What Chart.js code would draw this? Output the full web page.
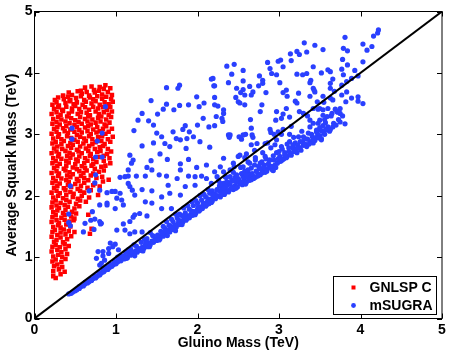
<!DOCTYPE html>
<html lang="en">
<head>
<meta charset="UTF-8">
<title>Squark vs gluino mass</title>
<script src="https://cdn.jsdelivr.net/npm/chart.js"></script>
<style>
  html, body { margin: 0; padding: 0; background: #fff; }
  #wrap { width: 450px; height: 354px; }
</style>
</head>
<body>
<div id="wrap"><canvas id="chartMass" width="450" height="354"></canvas></div>
<script>
// axis ticks (TeV)
const axisTicks = [0, 1, 2, 3, 4, 5];
const seriesNames = ['GNLSP C', 'mSUGRA'];

// GNLSP C points [gluino, squark] in TeV
const gnlspC = [
  [0.57,3.71],[0.62,3.76],[0.70,3.78],[0.73,3.72],[0.80,3.77],[0.85,3.74],[0.87,3.80],[0.93,3.75],
  [0.35,3.63],[0.42,3.68],[0.46,3.64],[0.53,3.70],[0.58,3.66],[0.64,3.69],[0.67,3.63],[0.74,3.68],[0.79,3.71],[0.83,3.65],[0.90,3.69],[0.95,3.64],
  [0.25,3.56],[0.29,3.60],[0.36,3.57],[0.41,3.61],[0.44,3.56],[0.51,3.59],[0.57,3.62],[0.61,3.56],[0.68,3.60],[0.72,3.57],[0.77,3.62],[0.83,3.58],[0.88,3.61],[0.94,3.57],
  [0.22,3.48],[0.27,3.52],[0.30,3.47],[0.38,3.51],[0.43,3.54],[0.48,3.49],[0.52,3.52],[0.59,3.48],[0.63,3.53],[0.70,3.50],[0.75,3.54],[0.80,3.48],[0.86,3.52],[0.91,3.49],[0.96,3.53],
  [0.24,3.41],[0.29,3.44],[0.34,3.40],[0.39,3.45],[0.46,3.42],[0.50,3.46],[0.55,3.41],[0.62,3.44],[0.67,3.40],[0.72,3.45],[0.78,3.42],[0.84,3.44],[0.89,3.40],[0.93,3.45],
  [0.21,3.33],[0.27,3.36],[0.32,3.32],[0.35,3.38],[0.42,3.34],[0.46,3.37],[0.53,3.33],[0.57,3.36],[0.64,3.35],[0.68,3.31],[0.75,3.37],[0.79,3.33],[0.85,3.36],[0.91,3.32],[0.95,3.37],
  [0.23,3.25],[0.29,3.28],[0.33,3.24],[0.40,3.29],[0.45,3.26],[0.50,3.23],[0.56,3.28],[0.62,3.25],[0.66,3.29],[0.71,3.24],[0.78,3.27],[0.82,3.29],[0.88,3.24],[0.94,3.28],
  [0.22,3.17],[0.27,3.20],[0.31,3.16],[0.38,3.21],[0.43,3.18],[0.49,3.15],[0.54,3.20],[0.58,3.17],[0.65,3.21],[0.69,3.16],[0.75,3.19],[0.81,3.21],[0.86,3.16],[0.92,3.19],
  [0.24,3.09],[0.28,3.12],[0.35,3.10],[0.39,3.13],[0.44,3.08],[0.52,3.12],[0.55,3.07],[0.62,3.11],[0.66,3.13],[0.72,3.08],[0.77,3.12],[0.84,3.09],[0.88,3.13],[0.95,3.09],
  [0.21,3.01],[0.27,3.04],[0.30,3.00],[0.37,3.05],[0.41,3.02],[0.49,3.04],[0.52,2.99],[0.58,3.03],[0.65,3.05],[0.69,3.00],[0.76,3.03],[0.80,3.05],[0.87,3.01],[0.91,3.04],
  [0.23,2.93],[0.29,2.96],[0.33,2.92],[0.40,2.97],[0.45,2.94],[0.49,2.91],[0.56,2.96],[0.61,2.93],[0.67,2.97],[0.71,2.92],[0.78,2.95],[0.83,2.97],[0.90,2.92],[0.96,2.96],
  [0.22,2.85],[0.26,2.88],[0.33,2.84],[0.36,2.89],[0.44,2.86],[0.47,2.83],[0.53,2.88],[0.60,2.85],[0.63,2.89],[0.71,2.84],[0.75,2.87],[0.82,2.89],[0.86,2.84],[0.93,2.88],
  [0.24,2.77],[0.28,2.80],[0.34,2.76],[0.41,2.81],[0.45,2.78],[0.52,2.75],[0.56,2.80],[0.63,2.77],[0.67,2.81],[0.74,2.76],[0.80,2.79],[0.84,2.81],[0.90,2.76],
  [0.21,2.69],[0.27,2.72],[0.30,2.68],[0.38,2.73],[0.43,2.70],[0.47,2.67],[0.54,2.72],[0.58,2.69],[0.66,2.73],[0.69,2.68],[0.77,2.71],[0.81,2.73],[0.89,2.68],[0.94,2.72],
  [0.23,2.61],[0.29,2.64],[0.33,2.60],[0.40,2.65],[0.44,2.62],[0.51,2.59],[0.55,2.64],[0.62,2.61],[0.68,2.65],[0.72,2.60],[0.79,2.63],[0.85,2.65],[0.92,2.61],
  [0.22,2.53],[0.26,2.56],[0.31,2.52],[0.39,2.57],[0.42,2.54],[0.50,2.51],[0.53,2.56],[0.61,2.53],[0.65,2.57],[0.72,2.52],[0.76,2.55],[0.85,2.57],[0.93,2.53],
  [0.24,2.45],[0.28,2.48],[0.36,2.44],[0.39,2.49],[0.47,2.46],[0.52,2.43],[0.58,2.48],[0.62,2.45],[0.70,2.49],[0.74,2.44],[0.82,2.47],[0.87,2.49],
  [0.21,2.37],[0.27,2.40],[0.30,2.36],[0.38,2.41],[0.43,2.38],[0.47,2.35],[0.55,2.40],[0.60,2.37],[0.64,2.41],[0.72,2.36],[0.79,2.39],[0.85,2.41],
  [0.23,2.29],[0.29,2.32],[0.33,2.28],[0.40,2.33],[0.44,2.30],[0.52,2.27],[0.57,2.32],[0.61,2.29],[0.69,2.33],[0.76,2.29],[0.83,2.31],[0.91,2.26],
  [0.22,2.21],[0.26,2.24],[0.31,2.20],[0.39,2.25],[0.42,2.22],[0.50,2.19],[0.54,2.24],[0.61,2.21],[0.66,2.25],[0.74,2.20],[0.84,2.23],
  [0.24,2.13],[0.28,2.16],[0.36,2.12],[0.41,2.17],[0.45,2.14],[0.53,2.11],[0.57,2.16],[0.65,2.13],[0.72,2.17],[0.80,2.15],
  [0.21,2.05],[0.27,2.08],[0.31,2.04],[0.38,2.09],[0.44,2.06],[0.48,2.03],[0.56,2.08],[0.61,2.05],[0.69,2.09],
  [0.23,1.97],[0.29,2.00],[0.35,1.96],[0.39,2.01],[0.47,1.98],[0.53,1.95],[0.58,2.00],[0.67,1.97],[0.78,2.01],
  [0.22,1.89],[0.26,1.92],[0.32,1.88],[0.39,1.93],[0.43,1.90],[0.51,1.87],[0.56,1.92],[0.63,1.90],
  [0.21,1.81],[0.27,1.84],[0.30,1.80],[0.37,1.85],[0.41,1.82],[0.49,1.79],[0.55,1.83],
  [0.23,1.73],[0.28,1.76],[0.35,1.72],[0.38,1.77],[0.46,1.74],[0.51,1.71],
  [0.22,1.65],[0.26,1.68],[0.33,1.64],[0.37,1.69],[0.45,1.66],[0.49,1.63],[0.66,1.69],
  [0.21,1.57],[0.27,1.60],[0.30,1.56],[0.37,1.61],[0.43,1.58],[0.48,1.60],
  [0.23,1.49],[0.29,1.52],[0.32,1.48],[0.39,1.53],[0.44,1.50],[0.70,1.46],
  [0.22,1.41],[0.25,1.44],[0.32,1.40],[0.36,1.45],[0.42,1.42],[0.49,1.41],[0.68,1.38],
  [0.21,1.33],[0.28,1.36],[0.32,1.32],[0.38,1.37],[0.45,1.34],
  [0.24,1.25],[0.27,1.28],[0.35,1.24],[0.40,1.29],
  [0.22,1.17],[0.26,1.20],[0.31,1.16],[0.37,1.21],[0.42,1.18],
  [0.21,1.09],[0.28,1.12],[0.33,1.08],[0.38,1.13],
  [0.23,1.01],[0.29,1.04],[0.34,1.00],[0.40,1.05],
  [0.22,0.93],[0.26,0.96],[0.33,0.92],[0.38,0.97],
  [0.24,0.85],[0.28,0.88],[0.34,0.84],
  [0.23,0.77],[0.30,0.80],[0.37,0.76],
  [0.32,0.72],[0.23,0.69],[0.26,0.66]
];

// mSUGRA points lying on the dense band just under the diagonal
const msugraBand = [
  [0.42,0.40],[0.45,0.41],[0.47,0.43],[0.50,0.45],[0.52,0.47],[0.55,0.49],[0.57,0.52],[0.60,0.53],[0.62,0.56],[0.65,0.58],
  [0.67,0.60],[0.70,0.62],[0.72,0.65],[0.75,0.66],[0.77,0.69],[0.80,0.71],[0.82,0.74],[0.85,0.76],[0.87,0.79],[0.90,0.80],
  [0.92,0.83],[0.95,0.85],[0.97,0.88],[1.00,0.89],
  [0.55,0.52],[0.62,0.59],[0.68,0.64],[0.74,0.70],[0.79,0.75],[0.84,0.80],[0.88,0.84],[0.93,0.88],[0.98,0.93],
  [1.02,0.92],[1.04,0.96],[1.06,0.94],[1.08,0.99],[1.10,0.97],[1.12,1.01],[1.14,0.99],[1.16,1.05],[1.18,1.03],[1.20,1.07],
  [1.22,1.05],[1.24,1.10],[1.26,1.08],[1.28,1.14],[1.30,1.11],[1.32,1.16],[1.34,1.14],[1.36,1.20],[1.38,1.17],[1.40,1.23],
  [1.42,1.20],[1.44,1.26],[1.46,1.24],[1.48,1.30],[1.50,1.27],
  [1.05,1.02],[1.12,1.08],[1.18,1.13],[1.25,1.18],[1.31,1.24],[1.38,1.30],[1.45,1.35],[1.02,1.00],[1.15,1.12],[1.22,1.20],[1.35,1.29],[1.42,1.40],
  [1.03,0.95],[1.09,1.02],[1.13,0.98],[1.19,1.09],[1.23,1.02],[1.27,1.12],[1.33,1.10],[1.37,1.24],[1.41,1.17],[1.47,1.27],
  [1.52,1.32],[1.54,1.30],[1.56,1.36],[1.58,1.34],[1.60,1.40],[1.62,1.37],[1.64,1.44],[1.66,1.41],[1.68,1.47],[1.70,1.45],
  [1.72,1.52],[1.74,1.49],[1.76,1.55],[1.78,1.53],[1.80,1.59],[1.82,1.57],[1.84,1.63],[1.86,1.60],[1.88,1.67],[1.90,1.64],
  [1.92,1.70],[1.94,1.68],[1.96,1.74],[1.98,1.72],[2.00,1.78],[2.02,1.75],[2.04,1.82],[2.06,1.79],[2.08,1.86],[2.10,1.83],
  [2.12,1.90],[2.14,1.87],[2.16,1.94],[2.18,1.91],[2.20,1.97],
  [1.55,1.42],[1.60,1.47],[1.65,1.52],[1.70,1.58],[1.75,1.64],[1.80,1.68],[1.85,1.72],[1.90,1.78],[1.95,1.84],[2.00,1.88],
  [2.05,1.93],[2.10,1.98],[2.15,2.04],[1.58,1.50],[1.68,1.62],[1.78,1.70],[1.88,1.84],[1.98,1.92],[2.08,2.02],[2.18,2.08],
  [1.62,1.58],[1.73,1.70],[1.83,1.80],[1.93,1.90],[2.03,2.00],[2.13,2.10],
  [1.51,1.36],[1.53,1.28],[1.57,1.39],[1.61,1.43],[1.63,1.35],[1.67,1.50],[1.71,1.48],[1.73,1.43],[1.77,1.60],[1.81,1.53],
  [1.83,1.66],[1.87,1.63],[1.91,1.67],[1.93,1.75],[1.97,1.69],[2.01,1.82],[2.03,1.77],[2.07,1.88],[2.11,1.85],[2.13,1.95],
  [2.17,1.89],[2.19,2.00],
  [2.22,1.95],[2.25,2.00],[2.28,1.98],[2.30,2.05],[2.33,2.02],[2.36,2.08],[2.38,2.06],[2.41,2.12],[2.44,2.10],[2.46,2.16],
  [2.49,2.14],[2.52,2.20],[2.55,2.18],[2.57,2.24],[2.60,2.22],[2.63,2.28],[2.66,2.26],[2.68,2.32],[2.71,2.30],[2.74,2.36],
  [2.77,2.34],[2.80,2.40],[2.83,2.38],[2.86,2.44],[2.89,2.47],[2.92,2.42],[2.95,2.50],[2.98,2.53],
  [2.24,2.10],[2.27,2.16],[2.32,2.20],[2.37,2.18],[2.42,2.25],[2.46,2.30],[2.50,2.28],[2.55,2.35],[2.58,2.40],[2.62,2.38],
  [2.66,2.45],[2.70,2.50],[2.75,2.48],[2.79,2.55],[2.84,2.60],[2.88,2.58],[2.93,2.65],[2.97,2.70],[2.26,2.24],[2.35,2.30],
  [2.44,2.38],[2.53,2.46],[2.62,2.55],[2.71,2.62],[2.80,2.70],[2.90,2.78],[2.30,2.14],[2.48,2.22],[2.64,2.34],[2.82,2.50],
  [2.21,2.03],[2.23,1.98],[2.27,2.08],[2.29,2.01],[2.31,2.10],[2.34,2.06],[2.35,2.15],[2.39,2.09],[2.40,2.20],[2.43,2.14],
  [2.45,2.24],[2.47,2.12],[2.51,2.25],[2.54,2.22],[2.56,2.31],[2.59,2.19],[2.61,2.30],[2.64,2.25],[2.67,2.36],[2.69,2.28],
  [2.72,2.40],[2.74,2.32],[2.76,2.44],[2.79,2.37],[2.81,2.46],[2.85,2.40],[2.87,2.52],[2.91,2.48],[2.94,2.58],[2.96,2.46],
  [2.99,2.60],
  [3.02,2.56],[3.06,2.60],[3.10,2.64],[3.14,2.68],[3.18,2.72],[3.22,2.70],[3.26,2.78],[3.30,2.82],[3.34,2.80],[3.38,2.88],
  [3.42,2.86],[3.46,2.95],[3.50,2.98],[3.55,3.02],[3.58,3.08],[3.62,3.05],[3.66,3.12],[3.70,3.15],[3.75,3.20],
  [3.04,2.76],[3.10,2.84],[3.18,2.95],[3.28,3.05],[3.38,3.12],[3.48,3.18],[3.56,3.24],[3.64,3.30],[3.72,3.36],
  [3.12,2.78],[3.20,2.86],[3.30,2.96],[3.40,3.00],
  [3.01,2.64],[3.04,2.58],[3.07,2.70],[3.09,2.62],[3.12,2.72],[3.15,2.66],[3.17,2.78],[3.20,2.74],[3.23,2.82],[3.27,2.74],
  [3.29,2.88],[3.32,2.84],[3.35,2.92],[3.37,2.84],[3.41,2.96],[3.44,2.90],[3.47,3.02],[3.49,2.94],[3.52,3.06],[3.56,3.00],
  [3.60,3.12],[3.63,3.08],[3.67,3.18],[3.73,3.24],[3.78,3.30],
  [2.45,2.47],[2.58,2.62],[2.70,2.74],[2.86,2.86],[3.05,3.08],[3.15,3.13],[3.35,3.30],[3.55,3.52],[3.68,3.70]
];

// mSUGRA points scattered around and above the diagonal
const msugraUpper = [
  [2.38,2.99],[2.39,2.95],[2.54,2.92],[2.59,3.00],[2.67,2.99],[2.66,2.83],[2.73,2.85],[2.83,2.85],[2.90,3.03],[2.99,3.04],
  [3.03,3.00],[2.97,2.91],[2.95,2.83],[3.03,2.80],[3.13,3.00],[3.13,2.88],[3.17,2.83],[3.24,2.96],[3.26,2.88],[3.32,2.93],
  [3.36,3.02],[3.42,2.91],[3.52,2.91],[3.46,3.04],[3.07,2.66],[3.00,2.72],[3.22,2.77],[2.93,2.41],[2.89,2.58],[2.83,2.64],
  [2.77,2.53],[2.71,2.58],[2.64,2.53],[2.62,2.42],[2.56,2.47],[2.50,2.64],[2.52,2.66],[2.60,2.68],[2.44,2.53],[2.40,2.42],
  [2.32,2.61],[2.28,2.47],[2.32,2.39],[2.34,2.31],[2.40,2.31],[2.48,2.34],[2.54,2.36],[2.60,2.34],[2.24,2.31],[2.21,2.39],
  [2.17,2.20],[2.28,2.20],[2.36,2.23],[2.24,2.09],[2.32,2.12],[2.19,2.01],[2.15,1.93],
  [3.38,3.23],[3.42,3.18],[3.50,3.23],[3.57,3.19],[3.54,3.14],[3.50,3.11],[3.57,3.07],[3.46,3.07],[3.81,3.17],[3.52,2.93],
  [3.59,3.29],[3.54,3.31],[3.65,3.34],[3.75,3.34],[3.71,3.37],[3.50,3.42],[3.54,3.40],[3.60,3.42],[3.69,3.41],[3.75,3.42],
  [3.47,3.53],[4.03,3.50],[3.82,3.53],[3.97,3.54],[3.97,3.61],[3.89,3.59],[3.66,3.56],[3.63,3.59],[3.54,3.62],[3.77,3.64],
  [3.83,3.69],[3.44,3.69],[3.42,3.75],[3.63,3.75],[3.63,3.83],[3.66,3.90],[3.77,3.80],[3.83,3.86],[3.89,3.91],[3.97,3.95],
  [3.93,4.04],[3.79,3.97],[3.77,4.06],[3.63,4.02],[3.60,4.05],[3.52,4.00],[3.42,4.10],[4.03,4.18],[3.84,4.13],[3.78,4.22],
  [3.84,4.36],[3.79,4.40],[4.08,4.37],[4.14,4.43],[4.03,4.47],[3.54,4.38],[3.44,4.45],[3.81,4.58],[4.16,4.60],[4.21,4.65],[4.22,4.70],
  [3.31,4.49],[3.22,4.35],[3.25,4.30],[3.14,4.31],[3.34,4.34],[3.02,4.21],[2.99,4.19],[3.15,4.20],[2.86,4.17],[2.89,4.07],
  [3.05,4.10],[2.91,3.99],[2.76,3.95],[2.80,3.88],[2.80,3.83],[2.97,3.97],[3.01,3.84],[3.22,3.98],[3.29,3.97],[3.34,3.99],
  [3.39,3.88],[3.38,3.84],[2.36,4.11],[2.45,4.14],[2.42,3.98],[2.56,4.04],[2.56,3.87],[2.19,3.91],[2.38,3.84],[2.75,3.79],
  [2.21,3.79],[2.48,3.75],[2.56,3.73],[2.64,3.78],[2.68,3.69],[2.53,3.68],[2.47,3.60],[2.58,3.64],[2.66,3.64],[2.84,3.68],
  [3.05,3.68],[3.09,3.72],[3.10,3.62],[3.24,3.67],[3.38,3.62],[3.43,3.72],[2.21,3.60],[2.50,3.53],[2.52,3.51],[2.58,3.48],
  [2.79,3.48],[2.77,3.37],[2.65,3.24],[2.21,3.48],[2.25,3.46],[2.32,3.40],[2.32,3.34],[2.23,3.29],[2.30,3.26],[2.31,3.21],
  [2.21,3.14],[2.97,3.37],[3.05,3.33],[2.96,3.23],[3.03,3.26],[3.13,3.28],[3.09,3.42],[3.20,3.54],[3.22,3.51],[3.25,3.37],
  [3.30,3.34],[3.42,3.42],[3.48,3.41],[2.66,3.10],[2.40,2.99],[2.51,2.96],[2.56,2.99],[2.68,2.95],[2.89,3.08],[2.94,3.00],
  [1.78,3.80],[1.76,3.75],[1.62,3.76],[1.43,3.55],[2.17,3.90],[2.20,3.79],[1.99,3.61],[2.08,3.51],[1.89,3.48],[1.78,3.47],
  [1.62,3.49],[1.58,3.41],[1.71,3.40],[2.02,3.45],[1.32,3.34],[1.51,3.33],[1.27,3.23],[1.40,3.22],[1.22,3.06],[1.46,3.15],
  [1.85,3.14],[1.82,3.08],[2.00,3.15],[2.07,3.26],[2.14,3.12],[1.70,3.04],[1.50,3.02],[1.56,2.96],[1.90,3.04],[1.95,2.96],
  [1.74,2.93],[1.79,2.91],[1.87,2.93],[2.03,2.88],[1.46,2.86],[1.60,2.85],[1.32,2.81],[1.66,2.80],[1.86,2.77],[2.15,2.79],
  [1.54,2.68],[1.17,2.66],[1.21,2.58],[1.19,2.53],[1.43,2.57],[1.63,2.59],[1.79,2.52],[1.89,2.59],[1.99,2.46],[2.11,2.50],
  [1.38,2.46],[1.44,2.42],[1.53,2.34],[1.79,2.42],[1.62,2.32],[1.15,2.42],[1.15,2.32],[1.05,2.30],[1.11,2.31],
  [1.25,2.32],[1.36,2.32],[1.75,2.28],[1.89,2.32],[1.97,2.31],[2.05,2.32],[2.11,2.28],[1.97,2.17],[1.64,2.17],[1.17,2.15],
  [0.99,2.07],[1.05,2.04],[1.15,2.20],[1.20,2.09],[1.23,2.01],[1.32,2.10],[1.44,2.08],[1.56,1.98],[1.66,2.04],[1.79,2.01],
  [1.85,2.15],[1.07,1.93],[0.89,1.85],[0.99,1.79],[1.09,1.85],[1.36,1.90],[1.44,1.88],[1.56,1.79],[1.68,1.79],[1.23,1.69],
  [1.29,1.71],[1.38,1.67],[1.21,1.65],[1.09,1.54],[1.17,1.58],[1.01,1.44],[1.11,1.44],[1.17,1.38],[1.23,1.41],[1.32,1.41],
  [0.80,1.58],[0.82,1.55],[0.93,1.23],[0.99,1.21],[0.96,1.17],[1.03,1.12],[0.84,1.02],[0.91,1.06],
  [0.71,1.74],[0.69,1.60],[0.74,1.62],[0.62,1.55],[0.81,1.54],[0.60,1.41],[0.73,1.45],[0.89,1.88],[0.80,1.85],
  [1.01,1.96],[0.80,2.09],[0.89,2.05],[0.95,2.07],[0.78,1.09],[0.84,1.09],[0.76,0.98],[0.86,0.95],[0.82,0.90],[0.91,1.14],
  [0.80,0.87]
];

// mSUGRA points sitting inside the GNLSP C cloud
const msugraLeft = [
  [0.46,3.10],[0.46,2.92],[0.87,3.45],[0.83,3.02],[0.77,2.89],[0.75,2.63],[0.83,2.63],[0.75,2.34],[0.74,2.21],[0.67,2.08],
  [0.44,2.16],[0.42,1.70],[0.42,1.56],[0.44,1.51]
];

// the m(squark) = m(gluino) line
const diagonal = [[0, 0], [5, 5]];

const fontFamily = '"Liberation Sans", Arial, Helvetica, sans-serif';
const toXY = arr => arr.map(p => ({ x: p[0], y: p[1] }));

// frame, inward tick marks and boxed legend, drawn like the original figure
const framePlugin = {
  id: 'frame',
  afterDatasetsDraw(chart) {
    const { ctx, chartArea: a, scales } = chart;
    ctx.save();
    ctx.strokeStyle = '#000';
    ctx.lineWidth = 1;
    ctx.strokeRect(a.left, a.top, a.right - a.left, a.bottom - a.top);
    ctx.beginPath();
    axisTicks.forEach(v => {
      const px = Math.round(scales.x.getPixelForValue(v)) + 0.5;
      const py = Math.round(scales.y.getPixelForValue(v)) + 0.5;
      ctx.moveTo(px, a.bottom); ctx.lineTo(px, a.bottom - 5);
      ctx.moveTo(px, a.top); ctx.lineTo(px, a.top + 5);
      ctx.moveTo(a.left, py); ctx.lineTo(a.left + 5, py);
      ctx.moveTo(a.right, py); ctx.lineTo(a.right - 5, py);
    });
    ctx.stroke();

    // legend box in the lower right corner
    const w = 103, h = 38;
    const bx = Math.round(a.right - 6 - w) + 0.5;
    const by = Math.round(a.bottom - 4.5 - h) + 0.5;
    ctx.fillStyle = '#fff';
    ctx.fillRect(bx, by, w, h);
    ctx.strokeRect(bx, by, w, h);
    ctx.font = 'bold 14px ' + fontFamily;
    ctx.textBaseline = 'middle';
    const rows = [by + 11, by + 29];
    chart.data.datasets.slice(0, 2).forEach((ds, i) => {
      ctx.fillStyle = ds.backgroundColor;
      if (i === 0) {
        ctx.fillRect(bx + 18, rows[i] - 2, 4, 4);
      } else {
        ctx.beginPath();
        ctx.arc(bx + 20, rows[i], 2.4, 0, Math.PI * 2);
        ctx.fill();
      }
      ctx.fillStyle = '#000';
      ctx.fillText(ds.label, bx + 36, rows[i] + 1);
    });
    ctx.restore();
  }
};

const ctxMass = document.getElementById('chartMass').getContext('2d');
const chartMass = new Chart(ctxMass, {
  type: 'scatter',
  data: {
    datasets: [
      {
        label: seriesNames[0],
        data: toXY(gnlspC),
        backgroundColor: '#ff0000',
        borderWidth: 0,
        pointStyle: 'rect',
        pointRadius: 3.2,
        order: 2
      },
      {
        label: seriesNames[1],
        data: toXY(msugraBand.concat(msugraUpper, msugraLeft)),
        backgroundColor: '#2a40ff',
        borderWidth: 0,
        pointStyle: 'circle',
        pointRadius: 2.6,
        order: 1
      },
      {
        label: 'diagonal',
        data: toXY(diagonal),
        showLine: true,
        borderColor: '#000',
        borderWidth: 2,
        pointRadius: 0,
        order: 0
      }
    ]
  },
  options: {
    responsive: false,
    animation: false,
    devicePixelRatio: 1,
    layout: { padding: { top: 11.5, right: 8, bottom: 0, left: 0 } },
    plugins: {
      legend: { display: false },
      tooltip: { enabled: false }
    },
    scales: {
      x: {
        type: 'linear',
        min: 0, max: 5,
        afterFit(scale) { scale.height = 35.5; },
        grid: { display: false, drawTicks: false },
        border: { display: false },
        ticks: {
          stepSize: 1, padding: 3, color: '#000',
          font: { family: fontFamily, size: 14, weight: 'bold' }
        },
        title: {
          display: true, text: 'Gluino Mass (TeV)', color: '#000',
          padding: { top: 0, bottom: 2 },
          font: { family: fontFamily, size: 14, weight: 'bold' }
        }
      },
      y: {
        type: 'linear',
        min: 0, max: 5,
        afterFit(scale) { scale.width = 34.5; },
        grid: { display: false, drawTicks: false },
        border: { display: false },
        ticks: {
          stepSize: 1, padding: 2, color: '#000',
          font: { family: fontFamily, size: 14, weight: 'bold' }
        },
        title: {
          display: true, text: 'Average Squark Mass (TeV)', color: '#000',
          padding: { top: 4, bottom: 0 },
          font: { family: fontFamily, size: 14, weight: 'bold' }
        }
      }
    }
  },
  plugins: [framePlugin]
});
</script>
</body>
</html>
